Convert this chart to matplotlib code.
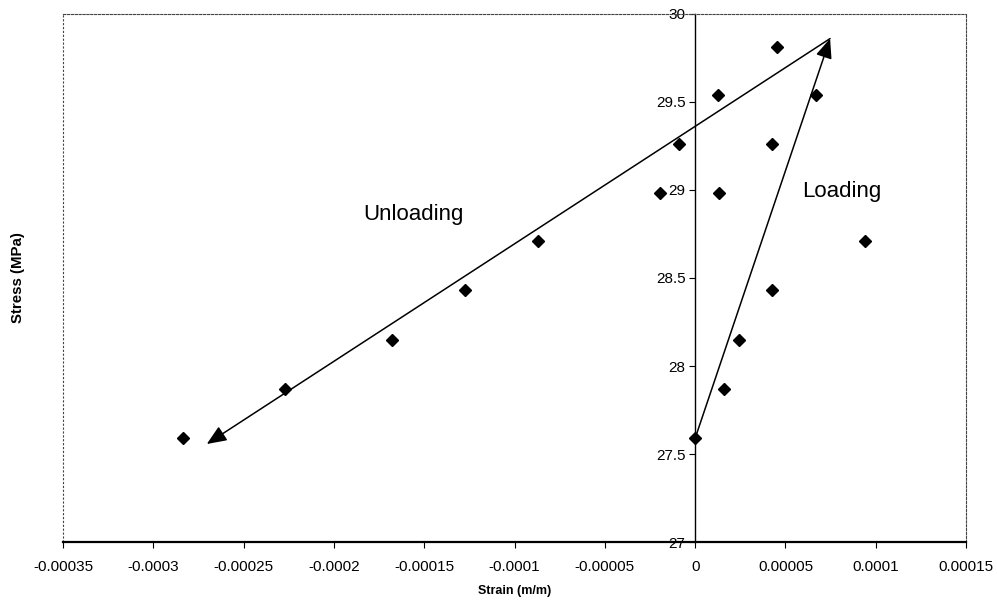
import numpy as np
import matplotlib.pyplot as plt
from matplotlib.lines import Line2D

plt.rcParams['font.family'] = ['Liberation Sans', 'DejaVu Sans']

# measured stress-strain points (strain in m/m, stress in MPa)
strain = [-2.835e-4, -2.27e-4, -1.678e-4, -1.274e-4, -8.69e-5, -1.94e-5, -8.7e-6,
          1.29e-5, 4.52e-5, 0.0, 1.59e-5, 2.40e-5, 4.28e-5, 9.41e-5, 1.33e-5,
          4.25e-5, 6.68e-5]
stress = [27.59, 27.87, 28.15, 28.43, 28.71, 28.98, 29.26,
          29.54, 29.81, 27.59, 27.87, 28.15, 28.43, 28.71, 28.98,
          29.26, 29.54]

# trend arrows (start -> end)
loading_start = (0.0, 27.59)
loading_end = (7.47e-5, 29.86)
unloading_start = (7.47e-5, 29.86)
unloading_end = (-2.704e-4, 27.557)

fig = plt.figure(figsize=(9.97, 6.05), dpi=100)
ax = fig.add_axes([0.0632, 0.104, 0.9058, 0.873])

ax.plot(strain, stress, linestyle='none', marker='D', markersize=6.5,
        color='black')

arrow_props = dict(arrowstyle='-|>,head_length=1.2,head_width=0.5',
                   color='black', lw=1.1, shrinkA=0, shrinkB=0)
ax.annotate('', xy=loading_end, xytext=loading_start, arrowprops=arrow_props)
ax.annotate('', xy=unloading_end, xytext=unloading_start, arrowprops=arrow_props)

ax.text(-1.56e-4, 28.86, 'Unloading', fontsize=16, ha='center', va='center')
ax.text(8.1e-5, 28.99, 'Loading', fontsize=16, ha='center', va='center')

ax.set_xlim(-0.00035, 0.00015)
ax.set_ylim(27, 30)
ax.set_xticks(np.arange(-0.00035, 0.000151, 0.00005))
ax.set_xticklabels(['-0.00035', '-0.0003', '-0.00025', '-0.0002', '-0.00015',
                    '-0.0001', '-0.00005', '0', '0.00005', '0.0001', '0.00015'])
ax.set_yticks([27, 27.5, 28, 28.5, 29, 29.5, 30])
ax.set_yticklabels(['27', '27.5', '28', '28.5', '29', '29.5', '30'])

# y axis crosses at strain = 0
ax.spines['left'].set_position(('data', 0))
ax.spines['left'].set_linewidth(1.0)
ax.spines['bottom'].set_linewidth(1.6)
border = dict(color='#444444', linestyle=(0, (2, 1.5)), linewidth=0.8)
for side in ['top', 'right']:
    ax.spines[side].set_linestyle(border['linestyle'])
    ax.spines[side].set_color(border['color'])
    ax.spines[side].set_linewidth(border['linewidth'])
# dotted plot-area border on the left side
ax.add_line(Line2D([0, 0], [0, 1], transform=ax.transAxes, clip_on=False,
                   **border))

ax.tick_params(axis='both', direction='out', length=4, width=0.8,
               labelsize=11, pad=3)
ax.tick_params(axis='x', pad=9)

ax.set_xlabel('Strain (m/m)', fontsize=9, fontweight='bold', labelpad=8)
fig.text(0.018, 0.541, 'Stress (MPa)', fontsize=10.8, fontweight='bold',
         rotation=90, ha='center', va='center')

fig.savefig('out.png', dpi=100)
